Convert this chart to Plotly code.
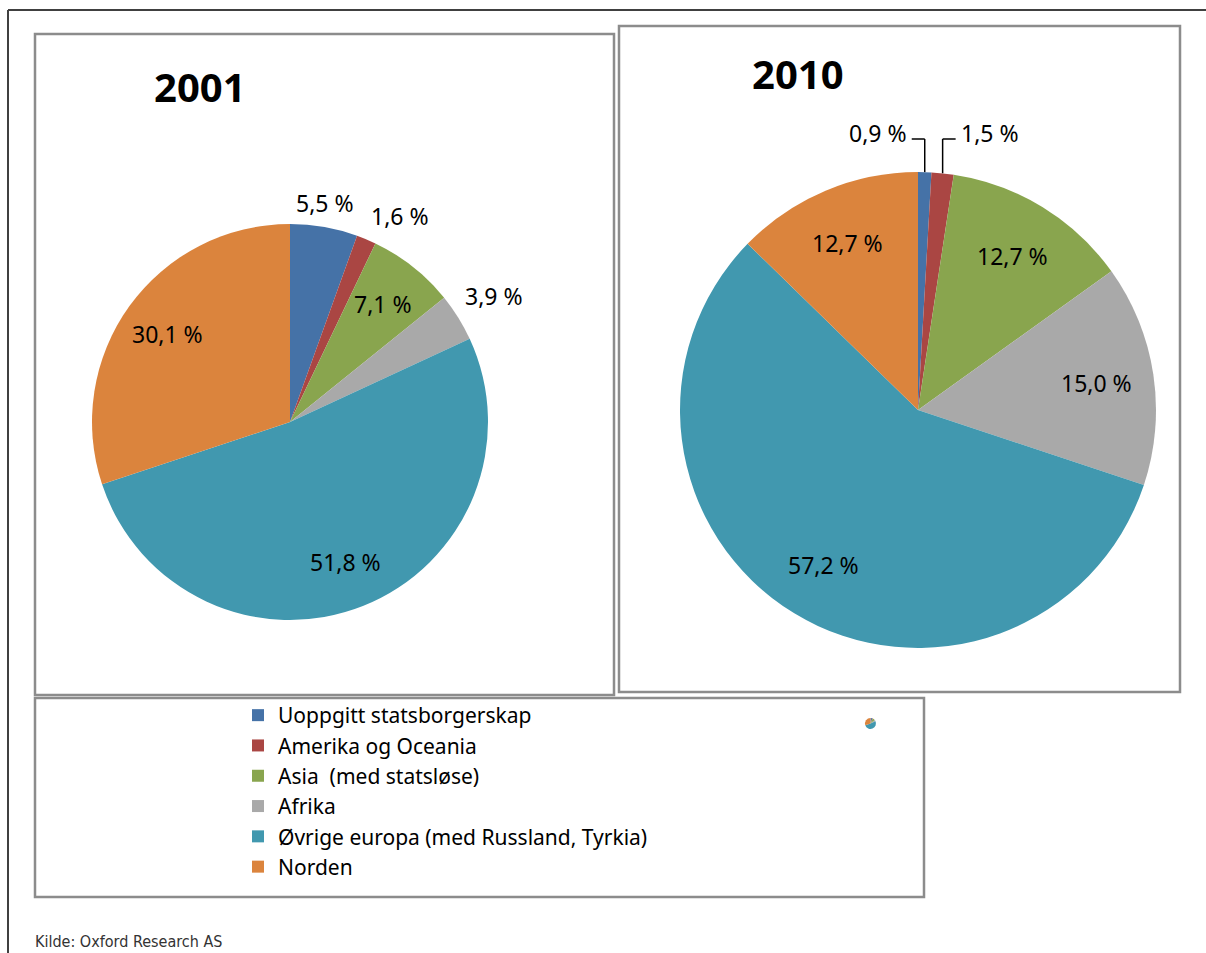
import math
import plotly.graph_objects as go

categories = ["Uoppgitt statsborgerskap", "Amerika og Oceania", "Asia  (med statsløse)",
              "Afrika", "Øvrige europa (med Russland, Tyrkia)", "Norden"]
values_2001 = [5.5, 1.6, 7.1, 3.9, 51.8, 30.1]
values_2010 = [0.9, 1.5, 12.7, 15.0, 57.2, 12.7]
colors = ["#4572A7", "#AA4643", "#89A54E", "#A9A9A9", "#4198AF", "#DB843D"]
# label style per slice: "inside", "outside" (free label), "left"/"right" (label with elbow leader line)
lab_2001 = ["outside", "outside", "inside", "outside", "inside", "inside"]
lab_2010 = ["left", "right", "inside", "inside", "inside", "inside"]

W, H = 1206, 953
FONT = "Noto Sans"
LBL = 23
INSIDE_R = 0.76

def fx(px):
    return px / W

def fy(py):
    return 1 - py / H

def fmt(vals):
    return [f"{v:.1f} %".replace(".", ",") for v in vals]

# pie geometry (pixels): centre and radius -> domain
PIES = {
    "2001": dict(cx=290, cy=422, r=198, vals=values_2001, lab=lab_2001),
    "2010": dict(cx=918, cy=410, r=238, vals=values_2010, lab=lab_2010),
}

fig = go.Figure()
shapes = []
annotations = []
lblfont = dict(family=FONT, size=LBL, color="black")

for i, (name, p) in enumerate(PIES.items()):
    cx, cy, r = p["cx"], p["cy"], p["r"]
    texts = fmt(p["vals"])
    fig.add_trace(go.Pie(
        labels=categories, values=p["vals"], textinfo="none",
        sort=False, direction="clockwise", rotation=0,
        marker=dict(colors=colors, line=dict(width=0)),
        domain=dict(x=[fx(cx - r), fx(cx + r)], y=[fy(cy + r), fy(cy - r)]),
        hoverinfo="label+percent", showlegend=(i == 0),
    ))
    total = sum(p["vals"])
    cum = 0.0
    for v, t, l in zip(p["vals"], texts, p["lab"]):
        theta = (cum + v / 2) / total * 2 * math.pi
        cum += v
        s, c = math.sin(theta), math.cos(theta)
        if l == "inside":
            annotations.append(dict(text=t, x=fx(cx + INSIDE_R * r * s), y=fy(cy - INSIDE_R * r * c),
                                    xref="paper", yref="paper", showarrow=False,
                                    xanchor="center", yanchor="middle", font=lblfont))
        elif l == "outside":
            px_, py_ = cx + (r + 6) * s, cy - (r + 6) * c
            xa = "left" if s > 0.25 else ("right" if s < -0.25 else "center")
            ya = "bottom" if c > 0.25 else ("top" if c < -0.25 else "middle")
            annotations.append(dict(text=t, x=fx(px_), y=fy(py_), xref="paper", yref="paper",
                                    showarrow=False, xanchor=xa, yanchor=ya, font=lblfont))
        else:
            side = -1 if l == "left" else 1
            ex, ey = cx + r * s, cy - r * c
            ytop = cy - r - 33
            xend = ex + side * 13
            shapes.append(dict(type="line", xref="paper", yref="paper", x0=fx(ex), y0=fy(ey),
                               x1=fx(ex), y1=fy(ytop), line=dict(color="black", width=1.5)))
            shapes.append(dict(type="line", xref="paper", yref="paper", x0=fx(ex), y0=fy(ytop),
                               x1=fx(xend), y1=fy(ytop), line=dict(color="black", width=1.5)))
            annotations.append(dict(text=t, x=fx(xend + side * 3), y=fy(ytop - 6), xref="paper", yref="paper",
                                    showarrow=False, xanchor=("right" if side < 0 else "left"),
                                    yanchor="middle", font=lblfont))

# tiny pie icon in legend box
fig.add_trace(go.Pie(
    labels=categories, values=values_2001, textinfo="none",
    sort=False, direction="clockwise",
    marker=dict(colors=colors, line=dict(width=0)),
    domain=dict(x=[fx(865), fx(876)], y=[fy(729), fy(718)]),
    hoverinfo="skip", showlegend=False,
))

gray = "#8C8C8C"
# outer frame lines
shapes.append(dict(type="line", xref="paper", yref="paper", x0=fx(8), x1=fx(1206), y0=fy(10), y1=fy(10),
                   line=dict(color="#404040", width=2)))
shapes.append(dict(type="line", xref="paper", yref="paper", x0=fx(8), x1=fx(8), y0=fy(10), y1=fy(953),
                   line=dict(color="#404040", width=2)))
# panel boxes
for (x0, y0, x1, y1) in [(35, 34, 614, 695), (619, 26, 1180, 692), (35, 698, 924, 897)]:
    shapes.append(dict(type="rect", xref="paper", yref="paper", x0=fx(x0), x1=fx(x1), y0=fy(y1), y1=fy(y0),
                       line=dict(color=gray, width=2.5), fillcolor="rgba(0,0,0,0)"))

annotations += [
    dict(text="<b>2001</b>", x=fx(200), y=fy(86), xref="paper", yref="paper", showarrow=False,
         font=dict(family=FONT, size=40, color="black"), xanchor="center", yanchor="middle"),
    dict(text="<b>2010</b>", x=fx(798), y=fy(74), xref="paper", yref="paper", showarrow=False,
         font=dict(family=FONT, size=40, color="black"), xanchor="center", yanchor="middle"),
    dict(text="Kilde: Oxford Research AS", x=fx(33), y=fy(941), xref="paper", yref="paper", showarrow=False,
         font=dict(family="DejaVu Sans Condensed, Liberation Sans Narrow, Arial Narrow, sans-serif",
                   size=16, color="#333333"),
         xanchor="left", yanchor="middle"),
]

fig.update_layout(
    width=W, height=H, margin=dict(l=0, r=0, t=0, b=0),
    paper_bgcolor="white", plot_bgcolor="white",
    shapes=shapes, annotations=annotations,
    legend=dict(x=fx(238), y=fy(695), xanchor="left", yanchor="top",
                font=dict(family=FONT, size=21, color="black"),
                tracegroupgap=0, itemwidth=30, bgcolor="rgba(0,0,0,0)"),
)

fig.write_html("out.html", config={"displayModeBar": False},
               post_script="document.body.style.margin='0px';document.body.style.overflow='hidden';")
